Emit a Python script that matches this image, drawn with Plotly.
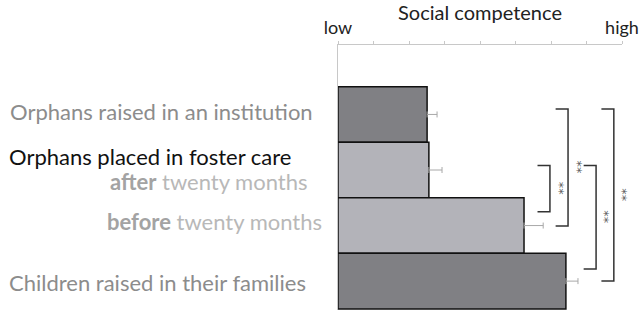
import plotly.graph_objects as go

# ---- data ----
categories = ["institution", "after", "before", "families"]
values = [2.51, 2.56, 5.24, 6.42]
errors = [0.28, 0.37, 0.54, 0.34]
bar_colors = ["#808084", "#b3b3b9", "#b3b3b9", "#808084"]
tick_vals = [0, 1, 2, 3, 4, 5, 6, 7, 8]
tick_text = ["low", "", "", "", "", "", "", "", "high"]
# significance comparisons: (upper category, lower category, top offset, bottom offset, bracket x)
comparisons = [
    ("after", "before", -0.08, -0.25, 5.97),
    ("institution", "before", -0.10, 0.01, 6.48),
    ("after", "families", -0.08, -0.22, 7.27),
    ("institution", "families", -0.10, 0.0, 7.77),
]
sig_label = "**"

W, H = 644, 313
ML, MR, MT, MB = 338, 22, 45, 3
PW = W - ML - MR

FONT = "Lato"

fig = go.Figure()
fig.add_trace(go.Bar(
    y=categories, x=values, orientation="h",
    marker=dict(color=bar_colors, line=dict(color="#111111", width=1.5)),
    error_x=dict(type="data", array=errors, arrayminus=[0]*len(errors), symmetric=False,
                 color="#a8a8a8", thickness=1, width=3),
    width=1.0, hoverinfo="skip",
))

idx = {c: i for i, c in enumerate(categories)}
arm = 0.35
for a, b, oa, ob, xb in comparisons:
    y0 = idx[a] + oa
    y1 = idx[b] + ob
    fig.add_shape(type="path",
                  path=f"M {xb-arm},{y0} L {xb},{y0} L {xb},{y1} L {xb-arm},{y1}",
                  xref="x", yref="y", line=dict(color="#333333", width=1.5))
    fig.add_annotation(x=xb, y=(y0 + y1) / 2, xref="x", yref="y", text=sig_label,
                       textangle=90, showarrow=False, xshift=9,
                       font=dict(family="DejaVu Sans", size=13, color="#555555"))

def px2paper(px):
    return (px - ML) / PW

labels = [
    ("Orphans raised in an institution", "institution", 8, 3, "#8c8c8c"),
    ("Orphans placed in foster care", "after", 7, 14, "#111111"),
    ("<b>after</b> <span style='color:#b8b8b8'>twenty months</span>", "after", 108, -11, "#a3a3a3"),
    ("<b>before</b> <span style='color:#b8b8b8'>twenty months</span>", "before", 105, 4, "#a3a3a3"),
    ("Children raised in their families", "families", 7, -1, "#8c8c8c"),
]
for text, cat, lx, ys, col in labels:
    fig.add_annotation(x=px2paper(lx), y=cat, xref="paper", yref="y", text=text,
                       xanchor="left", yanchor="middle", showarrow=False, yshift=ys,
                       font=dict(family=FONT, size=22, color=col))

fig.update_layout(
    width=W, height=H,
    margin=dict(l=ML, r=MR, t=MT, b=MB, autoexpand=False),
    paper_bgcolor="white", plot_bgcolor="white",
    showlegend=False, bargap=0,
    xaxis=dict(side="top", range=[0, 8], tickvals=tick_vals, ticktext=tick_text,
               automargin=False,
               showgrid=False, zeroline=False, showline=True, linecolor="#c8c8c8", linewidth=1,
               ticks="outside", ticklen=3, tickcolor="#c8c8c8",
               tickfont=dict(family=FONT, size=18, color="#222222"),
               title=dict(text="Social competence", standoff=0,
                          font=dict(family=FONT, size=20, color="#222222"))),
    yaxis=dict(type="category", categoryarray=categories, range=[3.52, -1.25],
               automargin=False,
               showgrid=False, zeroline=False, showline=True, linecolor="#c8c8c8",
               showticklabels=False, ticks=""),
)

fig.write_html("out.html", config={"displayModeBar": False, "staticPlot": True},
               post_script="document.body.style.margin='0';")
